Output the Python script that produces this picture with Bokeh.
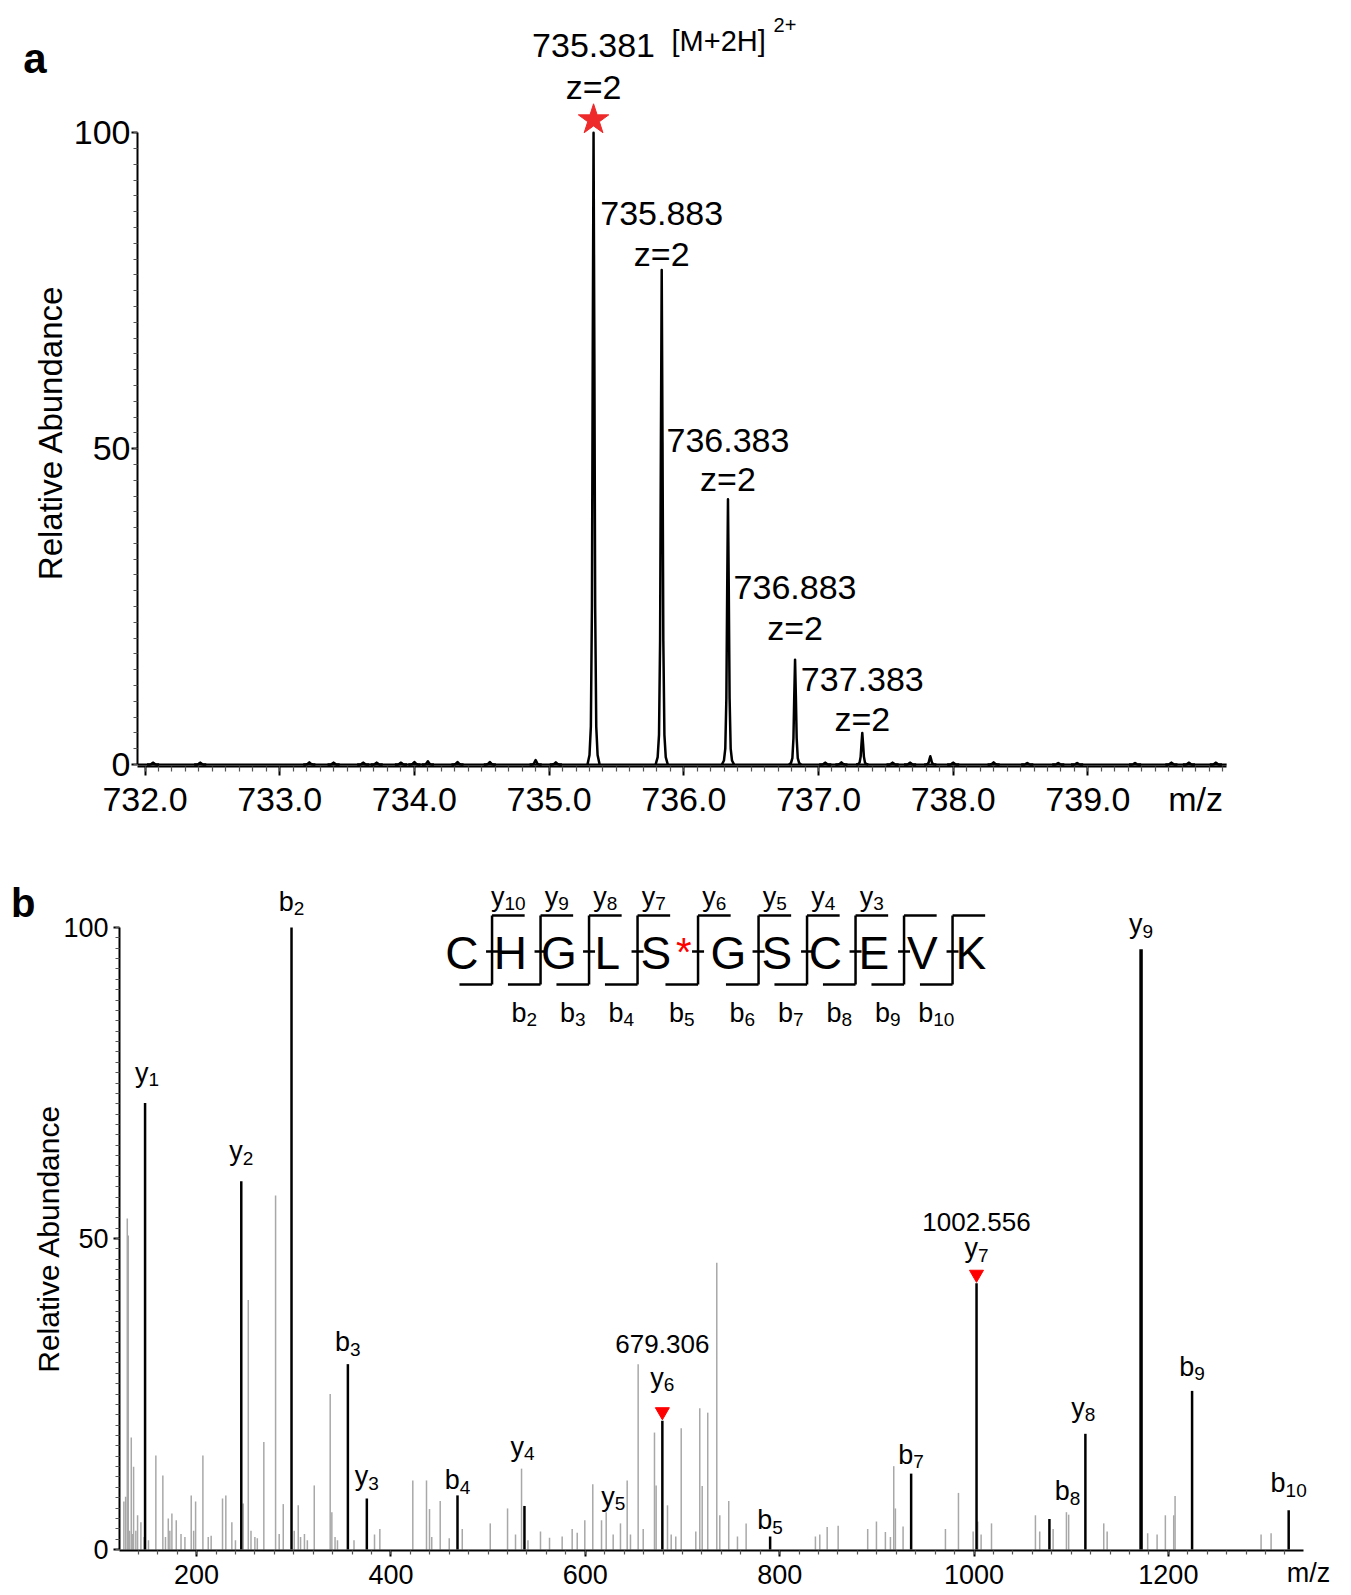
import numpy as np
from bokeh.plotting import figure
from bokeh.models import Range1d, FixedTicker, ColumnDataSource, NumeralTickFormatter, LinearAxis
from bokeh.embed import file_html
from bokeh.resources import INLINE
from bokeh.core.properties import value

# ================= DATA : panel a (precursor isotope envelope) =================
A_PEAK_MZ = [735.330, 735.836, 736.328, 736.826, 737.325, 737.830]     # apex positions
A_PEAK_INT = [100.0, 78.3, 42.0, 16.6, 5.0, 1.3]
A_PEAK_TEXT = ["735.381", "735.883", "736.383", "736.883", "737.383", ""]
A_PEAK_CHARGE = ["z=2", "z=2", "z=2", "z=2", "z=2", ""]
A_NOISE_MZ = [732.06, 732.41, 733.22, 733.40, 733.62, 733.72, 733.90, 734.00, 734.10,
              734.32, 734.56, 734.90, 735.05, 737.05, 737.17, 737.55, 737.68,
              738.00, 738.30, 738.55, 738.78, 738.92, 739.35, 739.62, 739.75, 739.95]
A_NOISE_INT = [0.3, 0.3, 0.35, 0.3, 0.3, 0.3, 0.3, 0.4, 0.5, 0.4, 0.4, 0.7, 0.35,
               0.3, 0.35, 0.3, 0.3, 0.3, 0.35, 0.25, 0.25, 0.25, 0.25, 0.3, 0.3, 0.3]
A_XTICKS = [732.0, 733.0, 734.0, 735.0, 736.0, 737.0, 738.0, 739.0]
A_PRECURSOR_TEXT = "[M+2H]"
A_PRECURSOR_CHARGE = "2+"
Y_TICKS = [0, 50, 100]
Y_TITLE = "Relative Abundance"
X_UNIT = "m/z"
# line shape of one profile peak (offset in m/z, fraction of apex)
SHAPE_DMZ = [-0.045, -0.03, -0.02, -0.012, -0.006, 0.0, 0.006, 0.012, 0.02, 0.03, 0.045]
SHAPE_FRAC = [0.0, 0.015, 0.06, 0.25, 0.65, 1.0, 0.65, 0.25, 0.06, 0.015, 0.0]

# ================= DATA : panel b (MS/MS spectrum) =================
B_ION_TYPE = ["y", "y", "b", "b", "y", "b", "y", "y", "y", "b", "b", "y", "b", "y", "y", "b", "b"]
B_ION_NUM = ["1", "2", "2", "3", "3", "4", "4", "5", "6", "5", "7", "7", "8", "8", "9", "9", "10"]
B_ION_MZ = [147.0, 246.0, 297.7, 355.7, 375.2, 468.5, 537.4, 628.7, 679.3, 790.2,
            935.3, 1002.6, 1077.6, 1114.6, 1171.9, 1224.4, 1323.8]
B_ION_INT = [71.8, 59.2, 100.0, 29.8, 8.2, 8.7, 7.0, 0.0, 20.7, 2.1,
             12.2, 42.8, 4.9, 18.6, 96.5, 25.5, 6.3]
B_MARK_MZ = [679.306, 1002.556]
B_MARK_INT = [20.7, 42.8]
B_MARK_TEXT = ["679.306", "1002.556"]
B_GRAY_MZ = [125.2, 127.0, 128.7, 129.7, 132.8, 135.2, 139.3, 142.7, 158.1, 165.3, 170.9,
             174.6, 179.1, 194.5, 199.0, 206.5, 226.7, 230.1, 236.3, 248.0, 253.2, 269.2,
             281.3, 289.2, 304.6, 321.1, 337.5, 339.2, 383.1, 388.6, 422.5, 436.6, 439.7,
             450.7, 473.4, 502.2, 520.0, 528.2, 534.4, 553.9, 563.2, 576.2, 586.5, 591.7,
             599.5, 607.7, 616.7, 621.5, 628.7, 636.2, 643.1, 646.5, 654.4, 659.6, 671.2,
             672.9, 684.6, 688.4, 693.1, 698.7, 713.7, 717.8, 720.3, 726.0, 735.3, 738.4,
             747.6, 756.6, 765.5, 836.8, 841.3, 848.9, 860.2, 890.6, 899.6, 908.8, 914.0,
             917.4, 919.1, 927.0, 970.6, 984.0, 999.1, 1003.8, 1007.3, 1018.0, 1063.2,
             1067.6, 1081.4, 1095.1, 1097.4, 1133.5, 1137.0, 1178.7, 1188.4, 1196.9,
             1205.5, 1206.9, 1295.4, 1305.7,
             131.0, 134.0, 137.5, 146.0, 150.5, 168.0, 172.5, 184.0, 188.0, 197.0, 212.0,
             215.0, 240.0, 256.0, 260.0, 262.5, 285.0, 300.5, 307.0, 311.0, 314.0, 342.5,
             345.0, 442.0, 460.0, 362.0, 541.0]
B_GRAY_INT = [7.7, 8.5, 53.2, 50.5, 18.0, 13.3, 5.5, 4.4, 15.1, 11.9, 5.0,
              5.8, 4.7, 8.7, 7.7, 15.1, 8.2, 8.7, 4.4, 7.4, 40.1, 17.3,
              56.9, 7.3, 7.1, 10.3, 25.0, 6.0, 2.4, 3.3, 11.1, 11.1, 6.5,
              7.8, 3.3, 4.2, 6.6, 2.4, 13.0, 2.9, 1.9, 2.1, 3.3, 2.7,
              4.7, 10.5, 4.7, 6.0, 2.4, 4.2, 11.1, 2.4, 29.8, 3.3, 18.8,
              10.3, 7.1, 2.4, 2.1, 19.5, 2.9, 22.7, 10.2, 22.0, 46.1, 5.5,
              7.8, 2.1, 4.2, 2.1, 2.4, 3.6, 3.8, 3.3, 4.5, 2.8, 2.0,
              13.4, 6.6, 3.7, 3.3, 9.1, 2.9, 4.5, 2.4, 4.2, 5.5,
              2.9, 3.3, 6.0, 5.6, 4.2, 2.9, 2.6, 2.4, 5.5,
              5.5, 8.6, 2.4, 2.6,
              3.0, 2.5, 3.0, 2.0, 1.5, 2.0, 3.0, 2.5, 2.0, 3.0, 2.0,
              2.2, 1.5, 3.0, 2.0, 1.8, 2.5, 3.0, 2.0, 2.5, 1.5, 2.0,
              1.5, 2.0, 1.8, 1.5, 1.5]
B_XTICKS = [200, 400, 600, 800, 1000, 1200]
SEQ = ["C", "H", "G", "L", "S", "G", "S", "C", "E", "V", "K"]
SEQ_MOD_INDEX = 4
SEQ_Y_IONS = ["10", "9", "8", "7", "6", "5", "4", "3"]          # above cleavage sites 1..8
SEQ_B_IONS = ["2", "3", "4", "5", "6", "7", "8", "9", "10"]     # below cleavage sites 2..10

# ================= STYLE / LAYOUT (page pixels, page margin 0) =================
SANS = "'Liberation Sans', Arial, sans-serif"
W = 1351
# panel a
HA, A_L, A_R, A_T, A_B = 848, 137, 31, 4, 82
SXA, SYA = 134.7, 6.317
A_FL, A_FB = A_L, HA - A_B
A_X0 = 732.0 - (144.5 - A_FL) / SXA
A_Y0 = -(A_FB - 764.0) / SYA
A_X1 = A_X0 + (W - A_L - A_R) / SXA
A_Y1 = A_Y0 + (HA - A_T - A_B) / SYA
A_AXIS_END = 740.03
A_NUM_DY = [87, 56, 59, 72, 53, 0]      # label centre above apex (px)
A_Z_DY = [46, 16, 20, 32, 14, 0]

def ax(px):
    return A_X0 + (px - A_FL) / SXA

def ay(py):
    return A_Y0 + (A_FB - py) / SYA

# panel b
HB, B_L, B_R, B_T, B_B = 747, 119, 11, 32, 45
SXB, SYB = 0.9718, 6.22
B_PAGE_TOP = HA
B_FL, B_FB = B_L, B_PAGE_TOP + HB - B_B
B_X0 = 121.0 - (119.3 - B_FL) / SXB
B_Y0 = -1.0 / SYB
B_X1 = B_X0 + (W - B_L - B_R) / SXB
B_Y1 = B_Y0 + (HB - B_T - B_B) / SYB
B_AXIS_END = 1339.0
B_LAB_DY = [30, 30, 26, 22, 22, 15, 59, 53, 43, 16, 19, 35, 28, 26, 25, 24, 27]
B_LAB_DX = [2, 0, 0, 0, 0, 0, -2, 0, 0, 0, 0, 0, 18, -2, 0, 0, 0]

def bx(px):
    return B_X0 + (px - B_FL) / SXB

def by(py):
    return B_Y0 + (B_FB - py) / SYB


def style_axes(p, tick_size):
    p.grid.visible = False
    p.outline_line_color = None
    p.background_fill_color = "white"
    p.border_fill_color = "white"
    for axis in (p.xaxis[0], p.yaxis[0]):
        axis.axis_line_width = 2
        axis.axis_line_color = "black"
        axis.major_tick_line_width = 2
        axis.minor_tick_line_width = 1.2
        axis.major_tick_line_color = "black"
        axis.minor_tick_line_color = "#555555"
        axis.major_tick_in = 0
        axis.minor_tick_in = 0
        axis.major_label_text_font = SANS
        axis.major_label_text_font_size = tick_size
        axis.major_label_text_color = "black"


def text_axis(p, side, pos, text, size, style, standoff, orient="horizontal"):
    """an extra, line-less axis carrying a single text label (panel letter, title, unit)"""
    a = LinearAxis(ticker=FixedTicker(ticks=[pos]), major_label_overrides={pos: text})
    a.axis_line_color = None
    a.major_tick_line_color = None
    a.minor_tick_line_color = None
    a.major_tick_out = 0
    a.major_tick_in = 0
    a.minor_tick_out = 0
    a.minor_tick_in = 0
    a.major_label_standoff = standoff
    a.major_label_orientation = orient
    a.major_label_text_font = SANS
    a.major_label_text_font_size = size
    a.major_label_text_font_style = style
    a.major_label_text_color = "black"
    p.add_layout(a, side)


# ------------------------------------------------------------ panel a
pa = figure(width=W, height=HA, x_range=Range1d(A_X0, A_X1), y_range=Range1d(A_Y0, A_Y1),
            output_backend="svg", toolbar_location=None,
            min_border_left=A_L, min_border_right=A_R, min_border_top=A_T, min_border_bottom=A_B)
style_axes(pa, "34px")
pa.xaxis.ticker = FixedTicker(ticks=A_XTICKS, minor_ticks=list(np.round(np.arange(732.0, 740.01, 0.1), 2)))
pa.xaxis.formatter = NumeralTickFormatter(format="0.0")
pa.xaxis.bounds = (A_X0, A_AXIS_END)
pa.xaxis.major_tick_out = 9
pa.xaxis.minor_tick_out = 5
pa.xaxis.major_label_standoff = 12
pa.yaxis.ticker = FixedTicker(ticks=Y_TICKS, minor_ticks=list(np.arange(0, 100.01, 2.5)))
pa.yaxis.bounds = (0, 100)
pa.yaxis.major_tick_out = 6
pa.yaxis.minor_tick_out = 4
pa.yaxis.major_label_standoff = 1
text_axis(pa, "left", round(ay(432), 3), Y_TITLE, "33px", "normal", 1, "vertical")
text_axis(pa, "left", round(ay(58), 3), "a", "42px", "bold", -17)
text_axis(pa, "below", round(ax(1195), 3), X_UNIT, "34px", "normal", -34)

# baseline + profile peaks
pa.line([A_X0, A_AXIS_END], [0, 0], line_color="black", line_width=2)
all_mz = A_PEAK_MZ + A_NOISE_MZ
all_int = A_PEAK_INT + A_NOISE_INT
xs = [[m + d for d in SHAPE_DMZ] for m in all_mz]
ys = [[h * f for f in SHAPE_FRAC] for h in all_int]
pa.multi_line(xs, ys, line_color="black", line_width=2.5, line_join="round")

# peak labels
lab_idx = [i for i, t in enumerate(A_PEAK_TEXT) if t]
num_src = ColumnDataSource(dict(
    x=[A_PEAK_MZ[i] for i in lab_idx],
    y=[A_PEAK_INT[i] + A_NUM_DY[i] / SYA for i in lab_idx],
    t=[A_PEAK_TEXT[i] for i in lab_idx]))
z_src = ColumnDataSource(dict(
    x=[A_PEAK_MZ[i] for i in lab_idx],
    y=[A_PEAK_INT[i] + A_Z_DY[i] / SYA for i in lab_idx],
    t=[A_PEAK_CHARGE[i] for i in lab_idx]))
for src in (num_src, z_src):
    pa.text(x="x", y="y", text="t", source=src, text_font=value(SANS),
            text_font_size=value("34px"), text_align="center", text_baseline="alphabetic",
            text_color="black")
# precursor star and precursor annotation
pa.scatter([A_PEAK_MZ[0]], [A_PEAK_INT[0] + 13 / SYA], marker="star", size=32,
           fill_color="#ee2a2a", line_color="#ee2a2a")
pa.text([A_PEAK_MZ[0] + 78 / SXA], [ay(40.8)], text=[A_PRECURSOR_TEXT], text_font=value(SANS),
        text_font_size=value("29px"), text_align="left", text_baseline="alphabetic", text_color="black")
pa.text([A_PEAK_MZ[0] + 180 / SXA], [ay(24)], text=[A_PRECURSOR_CHARGE], text_font=value(SANS),
        text_font_size=value("20px"), text_align="left", text_baseline="alphabetic", text_color="black")

# ------------------------------------------------------------ panel b
pb = figure(width=W, height=HB, x_range=Range1d(B_X0, B_X1), y_range=Range1d(B_Y0, B_Y1),
            output_backend="svg", toolbar_location=None,
            min_border_left=B_L, min_border_right=B_R, min_border_top=B_T, min_border_bottom=B_B)
style_axes(pb, "27px")
pb.xaxis.ticker = FixedTicker(ticks=B_XTICKS, minor_ticks=list(range(140, 1340, 20)))
pb.xaxis.bounds = (B_X0, B_AXIS_END)
pb.xaxis.major_tick_out = 6
pb.xaxis.minor_tick_out = 4
pb.xaxis.major_label_standoff = 8
pb.yaxis.ticker = FixedTicker(ticks=Y_TICKS, minor_ticks=list(np.arange(0, 100.01, 5 / 3)))
pb.yaxis.bounds = (0, 100)
pb.yaxis.major_tick_out = 6
pb.yaxis.minor_tick_out = 4
pb.yaxis.major_label_standoff = 5
text_axis(pb, "left", round(by(1238), 3), Y_TITLE, "30px", "normal", -4, "vertical")
text_axis(pb, "left", round(by(902), 3), "b", "40px", "bold", -7)
text_axis(pb, "below", round(bx(1308), 3), X_UNIT, "27px", "normal", -29)

pb.segment(x0=B_GRAY_MZ, y0=[0] * len(B_GRAY_MZ), x1=B_GRAY_MZ, y1=B_GRAY_INT,
           line_color="#a8a8a8", line_width=1.5)
widths = [3.5 if (t == "y" and n == "9") else 2.5 for t, n in zip(B_ION_TYPE, B_ION_NUM)]
pb.segment(x0=B_ION_MZ, y0=[0] * len(B_ION_MZ), x1=B_ION_MZ, y1=B_ION_INT,
           line_color="black", line_width=widths)


def ion_label_rows(xc, ybase, letters, subs, size, subsize, sx):
    """xc, ybase in data units; returns base-letter and subscript rows"""
    bxs, bys, bts, sxs, sys_, sts = [], [], [], [], [], []
    for x, y, l, s in zip(xc, ybase, letters, subs):
        wb = (0.5 if l == "y" else 0.556) * size
        ws = 0.556 * subsize * len(s)
        xj = x + (wb - ws) / 2 / sx
        bxs.append(xj); bys.append(y); bts.append(l)
        sxs.append(xj); sys_.append(y - 7 / SYB); sts.append(s)
    return (dict(x=bxs, y=bys, t=bts), dict(x=sxs, y=sys_, t=sts))


def draw_ion_labels(p, rows, size, subsize):
    base, sub = rows
    p.text(x="x", y="y", text="t", source=ColumnDataSource(base), text_font=value(SANS),
           text_font_size=value(f"{size}px"), text_align="right", text_baseline="alphabetic",
           text_color="black")
    p.text(x="x", y="y", text="t", source=ColumnDataSource(sub), text_font=value(SANS),
           text_font_size=value(f"{subsize}px"), text_align="left", text_baseline="alphabetic",
           text_color="black")


lab_x = [m + dx / SXB for m, dx in zip(B_ION_MZ, B_LAB_DX)]
lab_y = [h + dy / SYB for h, dy in zip(B_ION_INT, B_LAB_DY)]
draw_ion_labels(pb, ion_label_rows(lab_x, lab_y, B_ION_TYPE, B_ION_NUM, 27, 19, SXB), 27, 19)

# red triangles and exact masses of the diagnostic ions
pb.scatter(B_MARK_MZ, [h + 9 / SYB for h in B_MARK_INT], marker="inverted_triangle", size=14,
           fill_color="#ff0000", line_color="#ff0000")
MARK_DY = [77, 61]
pb.text(x=B_MARK_MZ, y=[h + d / SYB for h, d in zip(B_MARK_INT, MARK_DY)], text=B_MARK_TEXT,
        text_font=value(SANS), text_font_size=value("26px"), text_align="center",
        text_baseline="alphabetic", text_color="black")

# peptide sequence / fragmentation diagram (page-pixel layout)
SEQ_X0, SEQ_STEP, SEQ_GAP = 461.3, 48.5, 24.0
letter_px = [SEQ_X0 + i * SEQ_STEP + (SEQ_GAP if i > SEQ_MOD_INDEX else 0) for i in range(len(SEQ))]
pb.text(x=[bx(v) for v in letter_px], y=[by(952)] * len(SEQ), text=SEQ, text_font=value(SANS),
        text_font_size=value("46px"), text_align="center", text_baseline="alphabetic",
        text_color="black")
pb.text(x=[bx(letter_px[SEQ_MOD_INDEX] + 28)], y=[by(951)], text=["*"], text_font=value(SANS),
        text_font_size=value("40px"), text_align="center", text_baseline="alphabetic",
        text_color="#ff0000")
site_px = [(letter_px[k] + letter_px[k + 1]) / 2 + 6 for k in range(len(SEQ) - 1)]
TOP, BOT, MID, ARM, DASH = 915.0, 984.0, 951.0, 32.6, 6.0
x0s, y0s, x1s, y1s = [], [], [], []
for s in site_px:
    for a, b_, c, d in ((s, TOP, s, BOT), (s, TOP, s + ARM, TOP), (s - ARM, BOT, s, BOT),
                        (s - DASH, MID, s + DASH, MID)):
        x0s.append(bx(a)); y0s.append(by(b_)); x1s.append(bx(c)); y1s.append(by(d))
pb.segment(x0=x0s, y0=y0s, x1=x1s, y1=y1s, line_color="black", line_width=2.5)
yl_x = [bx(site_px[k] + ARM / 2) for k in range(len(SEQ_Y_IONS))]
draw_ion_labels(pb, ion_label_rows(yl_x, [by(896)] * len(yl_x), ["y"] * len(yl_x), SEQ_Y_IONS,
                                   27, 19, SXB), 27, 19)
bl_x = [bx(site_px[k + 1] - ARM / 2) for k in range(len(SEQ_B_IONS))]
draw_ion_labels(pb, ion_label_rows(bl_x, [by(1012)] * len(bl_x), ["b"] * len(bl_x), SEQ_B_IONS,
                                   27, 19, SXB), 27, 19)

open("out.html", "w").write(file_html([pa, pb], INLINE))
